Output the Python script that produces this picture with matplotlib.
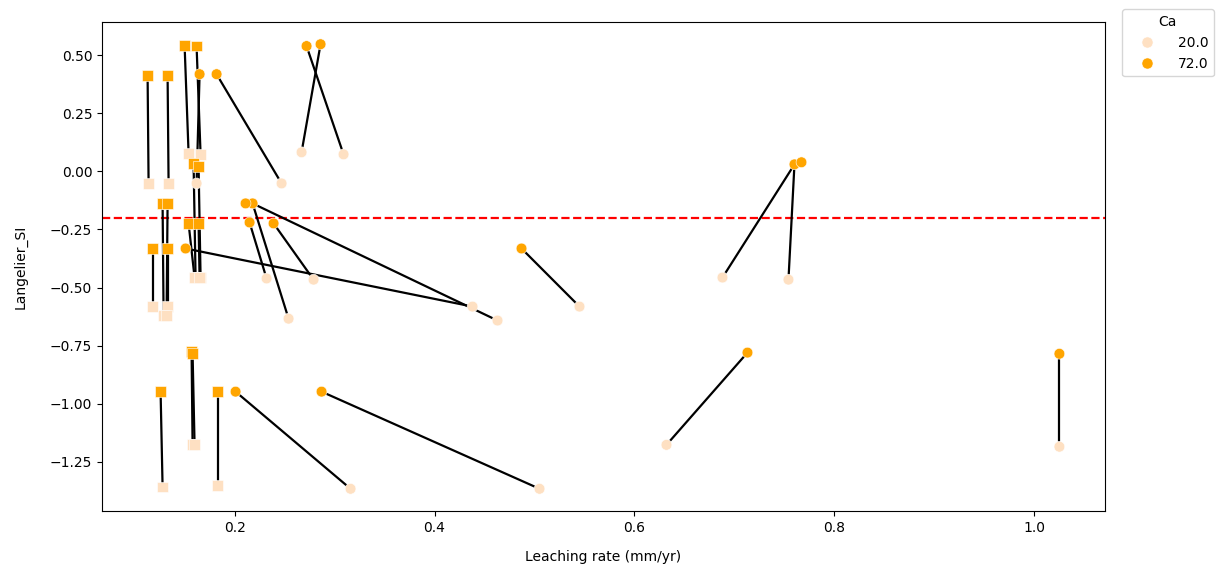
import numpy as np
import pandas as pd
import matplotlib
matplotlib.use("Agg")
import matplotlib.pyplot as plt
from matplotlib.lines import Line2D

# leaching rate (mm/yr), Langelier SI, Ca level, marker shape, link id
rate = [0.113, 0.114, 0.133, 0.134, 0.150, 0.154, 0.162, 0.166,
        0.165, 0.162, 0.182, 0.247, 0.272, 0.309, 0.286, 0.267,
        0.159, 0.161, 0.164, 0.166, 0.154, 0.160, 0.164, 0.165,
        0.118, 0.118, 0.133, 0.133, 0.128, 0.129, 0.133, 0.132,
        0.151, 0.438, 0.254, 0.218, 0.463, 0.211,
        0.215, 0.232, 0.239, 0.279, 0.487, 0.545,
        0.688, 0.760, 0.754, 0.767,
        0.126, 0.128, 0.157, 0.158, 0.158, 0.160, 0.183, 0.183,
        0.201, 0.316, 0.287, 0.505, 0.713, 0.632, 1.025, 1.025]
lsi = [0.414, -0.052, 0.414, -0.052, 0.543, 0.078, 0.539, 0.073,
       0.418, -0.052, 0.418, -0.052, 0.539, 0.073, 0.547, 0.082,
       0.034, -0.457, 0.022, -0.457, -0.224, -0.457, -0.224, -0.457,
       -0.332, -0.582, -0.332, -0.582, -0.138, -0.620, -0.138, -0.620,
       -0.332, -0.582, -0.634, -0.138, -0.642, -0.138,
       -0.220, -0.461, -0.224, -0.466, -0.332, -0.582,
       -0.457, 0.030, -0.466, 0.039,
       -0.948, -1.358, -0.775, -1.177, -0.785, -1.177, -0.948, -1.353,
       -0.948, -1.366, -0.948, -1.366, -0.780, -1.177, -0.785, -1.185]
ca = [72, 20, 72, 20, 72, 20, 72, 20,
      72, 20, 72, 20, 72, 20, 72, 20,
      72, 20, 72, 20, 72, 20, 72, 20,
      72, 20, 72, 20, 72, 20, 72, 20,
      72, 20, 20, 72, 20, 72,
      72, 20, 72, 20, 72, 20,
      20, 72, 20, 72,
      72, 20, 72, 20, 72, 20, 72, 20,
      72, 20, 72, 20, 72, 20, 72, 20]
shape = ['s', 's', 's', 's', 's', 's', 's', 's',
         'o', 'o', 'o', 'o', 'o', 'o', 'o', 'o',
         's', 's', 's', 's', 's', 's', 's', 's',
         's', 's', 's', 's', 's', 's', 's', 's',
         'o', 'o', 'o', 'o', 'o', 'o',
         'o', 'o', 'o', 'o', 'o', 'o',
         'o', 'o', 'o', 'o',
         's', 's', 's', 's', 's', 's', 's', 's',
         'o', 'o', 'o', 'o', 'o', 'o', 'o', 'o']
link = [1, 1, 2, 2, 3, 3, 4, 4,
        5, 5, 6, 6, 7, 7, 8, 8,
        9, 9, 10, 10, 11, 11, 12, 12,
        13, 13, 14, 14, 15, 15, 16, 16,
        17, 17, 18, 18, 18, 19,
        20, 20, 21, 21, 22, 22,
        23, 23, 23, 24,
        25, 25, 26, 26, 27, 27, 28, 28,
        29, 29, 30, 30, 31, 31, 32, 32]

ca_levels = [20.0, 72.0]
ca_colors = {20.0: '#fee0c2', 72.0: '#ffa500'}
threshold = -0.2

df = pd.DataFrame({'rate': rate, 'lsi': lsi, 'ca': np.array(ca, float),
                   'shape': shape, 'link': link})

fig = plt.figure(figsize=(12.26, 5.69), dpi=100)
ax = fig.add_axes([102/1226, 58/569, 1003/1226, 489/569])

# black connectors between linked samples
for _, g in df.groupby('link', sort=False):
    if len(g) > 1:
        ax.plot(g['rate'], g['lsi'], color='black', lw=1.6, zorder=2)

for m in ['s', 'o']:
    sub = df[df['shape'] == m]
    ax.scatter(sub['rate'], sub['lsi'], c=sub['ca'].map(ca_colors),
               marker=m, s=60, edgecolors='white', linewidths=0.4, zorder=3)

ax.axhline(threshold, color='red', ls='--', lw=1.6, zorder=1)

ax.set_xlabel('Leaching rate (mm/yr)', labelpad=11)
ax.set_ylabel('Langelier_SI', labelpad=16)

handles = [Line2D([], [], marker='o', ls='', color=ca_colors[c], markersize=8,
                  markeredgecolor='white', markeredgewidth=0.4)
           for c in ca_levels]
ax.legend(handles, [str(c) for c in ca_levels], title='Ca', loc='upper left',
          bbox_to_anchor=(1.01, 1.04), borderaxespad=0.5, handlelength=2.8)

fig.savefig('out.png', dpi=100)
